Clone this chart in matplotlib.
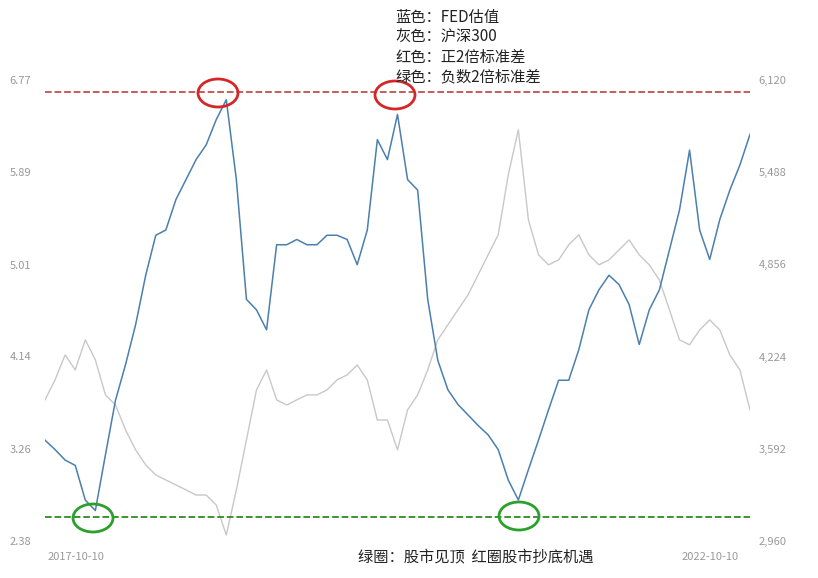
import matplotlib.pyplot as plt
import matplotlib.dates as mdates
from matplotlib.patches import Ellipse
import pandas as pd

plt.rcParams['font.family'] = ['Noto Sans CJK SC', 'DejaVu Sans']

# FED valuation (left axis), sampled roughly every 29 days
fed = [3.34, 3.25, 3.15, 3.10, 2.77, 2.67, 3.20, 3.72, 4.06, 4.44, 4.91, 5.29, 5.34, 5.63,
       5.82, 6.01, 6.15, 6.39, 6.58, 5.82, 4.68, 4.58, 4.39, 5.20, 5.20, 5.25, 5.20, 5.20,
       5.29, 5.29, 5.25, 5.01, 5.34, 6.20, 6.01, 6.44, 5.82, 5.72, 4.68, 4.10, 3.82, 3.68,
       3.58, 3.48, 3.39, 3.25, 2.96, 2.77, 3.06, 3.34, 3.63, 3.91, 3.91, 4.20, 4.58, 4.77,
       4.91, 4.82, 4.63, 4.25, 4.58, 4.77, 5.15, 5.53, 6.10, 5.34, 5.06, 5.44, 5.72, 5.96, 6.25]
# CSI 300 (right axis)
hs300 = [3927, 4064, 4235, 4132, 4338, 4201, 3961, 3892, 3721, 3584, 3481, 3413, 3378, 3344,
         3310, 3275, 3275, 3207, 3001, 3310, 3652, 3995, 4132, 3927, 3892, 3927, 3961, 3961,
         3995, 4064, 4098, 4166, 4064, 3789, 3789, 3584, 3858, 3961, 4132, 4338, 4441, 4544,
         4646, 4783, 4921, 5058, 5469, 5777, 5160, 4921, 4852, 4886, 4989, 5058, 4921, 4852,
         4886, 4955, 5023, 4921, 4852, 4749, 4544, 4338, 4304, 4406, 4475, 4406, 4235, 4132, 3858]
dates = pd.date_range('2017-07-12', periods=len(fed), freq='29D')

left_ticks = [2.38, 3.26, 4.14, 5.01, 5.89, 6.77]
right_ticks = [2960, 3592, 4224, 4856, 5488, 6120]
upper_band = 6.65
lower_band = 2.61

fig = plt.figure(figsize=(8.18, 5.78), dpi=100)
ax = fig.add_axes([45/818, 0.064, 705/818, 0.798])
ax2 = ax.twinx()

ax2.plot(dates, hs300, color='#c8c8c8', lw=1)
ax.plot(dates, fed, color='#4a7fae', lw=1.1)
ax.set_zorder(ax2.get_zorder() + 1)
ax.patch.set_visible(False)

ax.axhline(upper_band, color='#c0504d', ls='--', lw=1.3)
ax.axhline(lower_band, color='#2e8b22', ls='--', lw=1.3)

ax.set_ylim(left_ticks[0], left_ticks[-1])
ax2.set_ylim(right_ticks[0], right_ticks[-1])
ax.set_yticks(left_ticks)
ax.set_yticklabels([f'{t:.2f}' for t in left_ticks])
ax2.set_yticks(right_ticks)
ax2.set_yticklabels([f'{t:,}' for t in right_ticks])
ax.set_xlim(dates[0], dates[-1])
ax.set_xticks(pd.to_datetime(['2017-10-10', '2022-10-10']))
ax.xaxis.set_major_formatter(mdates.DateFormatter('%Y-%m-%d'))

for a in (ax, ax2):
    for s in a.spines.values():
        s.set_visible(False)
    a.tick_params(length=0, labelsize=8, colors='#999999')
ax.tick_params(axis='y', pad=10)
ax.tick_params(axis='x', pad=8)
ax2.tick_params(axis='y', pad=6)

# circles marking extremes (figure pixel positions)
for cx, cy, col in [(218, 93, '#d62728'), (395, 95, '#d62728'),
                    (93, 518, '#2ca02c'), (519, 516, '#2ca02c')]:
    fig.patches.append(Ellipse((cx/818, 1 - cy/578), 40/818, 28/578, fill=False,
                               ec=col, lw=2, transform=fig.transFigure))

legend_lines = ['蓝色：FED估值', '灰色：沪深300', '红色：正2倍标准差', '绿色：负数2倍标准差']
for i, t in enumerate(legend_lines):
    fig.text(395/818, 1 - (17 + i*20)/578, t, fontsize=11, va='center', color='#222222')
fig.text(358/818, 1 - 557/578, '绿圈：股市见顶  红圈股市抄底机遇', fontsize=11, va='center',
         color='#222222')

fig.savefig('out.png', dpi=100)
